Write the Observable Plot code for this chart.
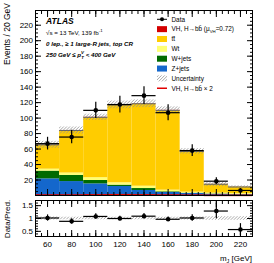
<!DOCTYPE html>
<html><head><meta charset="utf-8">
<script src="https://cdn.jsdelivr.net/npm/d3@7"></script>
<script src="https://cdn.jsdelivr.net/npm/@observablehq/plot@0.6"></script>
<style>
body{margin:0;background:#fff;}
#c{position:relative;width:274px;height:263px;font-family:"Liberation Sans",Arial,sans-serif;}
#c svg{position:absolute;left:0;}
</style></head><body><div id="c"></div>
<script>
// ---- data ----
const binLow  = [50, 70, 90, 110, 130, 150, 170, 190, 210];
const binHigh = [70, 90, 110, 130, 150, 170, 190, 210, 230];
const procNames  = ["Z+jets", "W+jets", "Wt", "ttbar", "VH"];
const procColors = ["#1467cc", "#006a00", "#ffff73", "#ffcc00", "#d40000"];
const zjets = [21.5, 18, 15, 11.6, 6.5, 3.9, 2.6, 1.5, 1.0];
const wjets = [10, 8, 4.4, 1.8, 2.5, 0.9, 0.4, 0.5, 0.5];
const wt    = [2.5, 3, 3.6, 3, 3, 2.1, 1.3, 1, 1];
const ttbar = [31.2, 54.7, 77.6, 100.1, 106.1, 102.8, 52.5, 11.4, 8.4];
const vh    = [0.3, 0.3, 0.4, 0.5, 0.4, 0.3, 0.2, 0.1, 0.1];
const vhx2  = [0.6, 0.6, 0.8, 1.0, 0.8, 0.6, 0.4, 0.2, 0.2];
const uncert  = [4.5, 4.5, 4, 5, 5, 4.5, 3.5, 3, 1.5];
const dataY   = [67, 75.5, 110, 117.5, 129, 107, 58, 18.5, 6.5];
const dataErr = [8.2, 8.7, 10.5, 10.8, 11.4, 10.3, 7.6, 4.3, 2.5];
const ratio    = [1.02, 0.89, 1.08, 1.0, 1.09, 0.97, 1.02, 1.29, 0.57];
const ratioErr = [0.12, 0.1, 0.1, 0.09, 0.1, 0.09, 0.13, 0.3, 0.23];
const ratioUnc = [0.06, 0.05, 0.05, 0.05, 0.05, 0.05, 0.06, 0.07, 0.07];
const xMajor = [60, 80, 100, 120, 140, 160, 180, 200, 220];
const yMajor = [20, 40, 60, 80, 100, 120, 140, 160, 180, 200, 220];
const rMajor = [0.5, 1, 1.5];

// ---- derived tables ----
const series = [zjets, wjets, wt, ttbar, vh];
const stackRows = [];
series.forEach((s, k) => s.forEach((v, i) => stackRows.push({lo: binLow[i], hi: binHigh[i], proc: procNames[k], v})));
const bins = binLow.map((lo, i) => ({
  lo, hi: binHigh[i], c: (lo + binHigh[i]) / 2,
  tot: series.reduce((a, s) => a + s[i], 0), unc: uncert[i],
  d: dataY[i], e: dataErr[i], vh2: vhx2[i],
  r: ratio[i], re: ratioErr[i], ru: ratioUnc[i]
}));
const xMinor = d3.range(50, 231, 5);
const yMinor = d3.range(0, 239, 5);
const rMinor = d3.range(0.3, 1.71, 0.1);
const noLab = () => "";
const font = "Liberation Sans, Arial, Helvetica, sans-serif";

function frameAxes(xMaj, xMin, yMaj, yMin, showX, yLabFmt) {
  return [
    Plot.axisY({ticks: yMaj, anchor: "left", tickSize: -6, tickPadding: 8.5, label: null, tickFormat: yLabFmt, fontSize: 8}),
    Plot.axisY({ticks: yMin, anchor: "left", tickSize: -3, label: null, tickFormat: noLab}),
    Plot.axisY({ticks: yMaj, anchor: "right", tickSize: -6, label: null, tickFormat: noLab}),
    Plot.axisY({ticks: yMin, anchor: "right", tickSize: -3, label: null, tickFormat: noLab}),
    Plot.axisX({ticks: xMaj, anchor: "bottom", tickSize: -6, tickPadding: 11, label: null, tickFormat: showX ? d => d : noLab, fontSize: 8}),
    Plot.axisX({ticks: xMin, anchor: "bottom", tickSize: -3, label: null, tickFormat: noLab}),
    Plot.axisX({ticks: xMaj, anchor: "top", tickSize: -6, label: null, tickFormat: noLab}),
    Plot.axisX({ticks: xMin, anchor: "top", tickSize: -3, label: null, tickFormat: noLab})
  ];
}

function addHatch(svg, id) {
  const defs = d3.select(svg).insert("defs", ":first-child");
  const p = defs.append("pattern").attr("id", id).attr("patternUnits", "userSpaceOnUse")
    .attr("width", 2.2).attr("height", 2.2).attr("patternTransform", "rotate(45)");
  p.append("line").attr("x1", 0).attr("y1", 0).attr("x2", 0).attr("y2", 2.2)
    .attr("stroke", "#909090").attr("stroke-width", 1.1);
}

const main = Plot.plot({
  width: 274, height: 198, marginTop: 10, marginBottom: 3, marginLeft: 35, marginRight: 22,
  style: {fontFamily: font, fontSize: "8px", background: "transparent", color: "black"},
  x: {domain: [50, 230], axis: null},
  y: {domain: [0, 239], axis: null},
  color: {domain: procNames, range: procColors},
  marks: [
    Plot.rectY(stackRows, {x1: "lo", x2: "hi", y: "v", fill: "proc"}),
    Plot.rectY(bins, {x1: "lo", x2: "hi", y1: d => d.tot - d.unc, y2: d => d.tot + d.unc, fill: "url(#hatchA)"}),
    Plot.ruleY(bins, {y: "tot", x1: "lo", x2: "hi", stroke: "#666", strokeWidth: 1}),
    Plot.ruleY(bins, {y: "vh2", x1: "lo", x2: "hi", stroke: "#e00000", strokeWidth: 1.6}),
    Plot.ruleX(bins, {x: "c", y1: d => d.d - d.e, y2: d => d.d + d.e, stroke: "black", strokeWidth: 1.2}),
    Plot.ruleY(bins, {y: "d", x1: "lo", x2: "hi", stroke: "black", strokeWidth: 1.2}),
    Plot.dot(bins, {x: "c", y: "d", r: 2.3, fill: "black"}),
    Plot.frame({stroke: "black"}),
    ...frameAxes(xMajor, xMinor, yMajor, yMinor, false, d => d)
  ]
});
addHatch(main, "hatchA");
main.style.top = "0px";

const rat = Plot.plot({
  width: 274, height: 65, marginTop: 2, marginBottom: 27, marginLeft: 35, marginRight: 22,
  style: {fontFamily: font, fontSize: "8px", background: "transparent", color: "black"},
  x: {domain: [50, 230], axis: null},
  y: {domain: [0.3, 1.7], axis: null},
  marks: [
    Plot.rectY(bins, {x1: "lo", x2: "hi", y1: d => 1 - d.ru, y2: d => 1 + d.ru, fill: "url(#hatchB)"}),
    Plot.ruleX(bins, {x: "c", y1: d => Math.max(0.3, d.r - d.re), y2: d => d.r + d.re, stroke: "black", strokeWidth: 1.2}),
    Plot.ruleY(bins, {y: "r", x1: "lo", x2: "hi", stroke: "black", strokeWidth: 1.2}),
    Plot.dot(bins, {x: "c", y: "r", r: 2.3, fill: "black"}),
    Plot.frame({stroke: "black"}),
    ...frameAxes(xMajor, xMinor, rMajor, rMinor, true, d => d)
  ]
});
addHatch(rat, "hatchB");
rat.style.top = "198px";

const c = document.getElementById("c");
c.appendChild(main);
c.appendChild(rat);

// ---- annotation + legend overlay ----
const ov = d3.select(c).append("svg").attr("width", 274).attr("height", 263)
  .style("top", "0px").style("font-family", font);
ov.append("text").attr("transform", "translate(10,3) rotate(-90)").attr("text-anchor", "end")
  .attr("font-size", 8.5).text("Events / 20 GeV");
ov.append("text").attr("transform", "translate(10,219) rotate(-90)").attr("text-anchor", "middle")
  .attr("font-size", 8).text("Data/Pred.");
const xl = ov.append("text").attr("x", 252).attr("y", 261).attr("text-anchor", "end").attr("font-size", 8);
xl.append("tspan").text("m");
xl.append("tspan").attr("font-size", 5.5).attr("dy", 1.5).text("J");
xl.append("tspan").attr("dy", -1.5).text(" [GeV]");

ov.append("text").attr("x", 46).attr("y", 23.5).attr("font-size", 8.5).attr("font-weight", "bold")
  .attr("font-style", "italic").text("ATLAS");
const t2 = ov.append("text").attr("x", 46).attr("y", 34.5).attr("font-size", 6.2);
t2.append("tspan").text("√s = 13 TeV, 139 fb");
t2.append("tspan").attr("font-size", 4.3).attr("dy", -2.5).text("-1");
ov.append("text").attr("x", 46).attr("y", 46).attr("font-size", 6.2).attr("font-weight", "bold")
  .attr("font-style", "italic").text("0 lep., ≥ 1 large-R jets,  top CR");
const t4 = ov.append("text").attr("x", 46).attr("y", 57).attr("font-size", 6.2).attr("font-weight", "bold")
  .attr("font-style", "italic");
t4.append("tspan").text("250 GeV  ≤ p");
t4.append("tspan").attr("font-size", 4.3).attr("dy", -2.6).text("V");
t4.append("tspan").attr("font-size", 4.3).attr("dx", -2.6).attr("dy", 4.6).text("T");
t4.append("tspan").attr("dy", -2).text(" < 400 GeV");

// legend
const legRows = [
  {label: "Data", kind: "data"},
  {label: "VH", kind: "fill", color: procColors[4]},
  {label: "tt", kind: "fill", color: procColors[3]},
  {label: "Wt", kind: "fill", color: procColors[2]},
  {label: "W+jets", kind: "fill", color: procColors[1]},
  {label: "Z+jets", kind: "fill", color: procColors[0]},
  {label: "Uncertainty", kind: "hatch"},
  {label: "VH2", kind: "line"}
];
const defs = ov.append("defs");
const hp = defs.append("pattern").attr("id", "hatchL").attr("patternUnits", "userSpaceOnUse")
  .attr("width", 2.2).attr("height", 2.2).attr("patternTransform", "rotate(45)");
hp.append("line").attr("x1", 0).attr("y1", 0).attr("x2", 0).attr("y2", 2.2).attr("stroke", "#909090").attr("stroke-width", 1.1);
legRows.forEach((r, i) => {
  const cy = 19.3 + i * 9.85;
  const g = ov.append("g");
  if (r.kind === "data") {
    g.append("line").attr("x1", 157).attr("x2", 167).attr("y1", cy).attr("y2", cy).attr("stroke", "black");
    g.append("circle").attr("cx", 162).attr("cy", cy).attr("r", 2).attr("fill", "black");
  } else if (r.kind === "fill") {
    g.append("rect").attr("x", 157).attr("y", cy - 3).attr("width", 10).attr("height", 6).attr("fill", r.color);
  } else if (r.kind === "hatch") {
    g.append("rect").attr("x", 157).attr("y", cy - 3).attr("width", 10).attr("height", 6).attr("fill", "url(#hatchL)");
  } else {
    g.append("line").attr("x1", 157).attr("x2", 167).attr("y1", cy).attr("y2", cy).attr("stroke", "#e00000").attr("stroke-width", 1.5);
  }
  const t = g.append("text").attr("x", 171.5).attr("y", cy + 2.3).attr("font-size", 6.4);
  if (r.label === "VH") {
    t.append("tspan").text("VH, H→bb\u0304 (μ");
    t.append("tspan").attr("font-size", 4.3).attr("dy", 1.8).text("VH");
    t.append("tspan").attr("dy", -1.8).text("=0.72)");
  } else if (r.label === "tt") {
    t.text("tt\u0304");
  } else if (r.label === "VH2") {
    t.text("VH, H→bb\u0304 × 2");
  } else {
    t.text(r.label);
  }
});
</script>
</body></html>
